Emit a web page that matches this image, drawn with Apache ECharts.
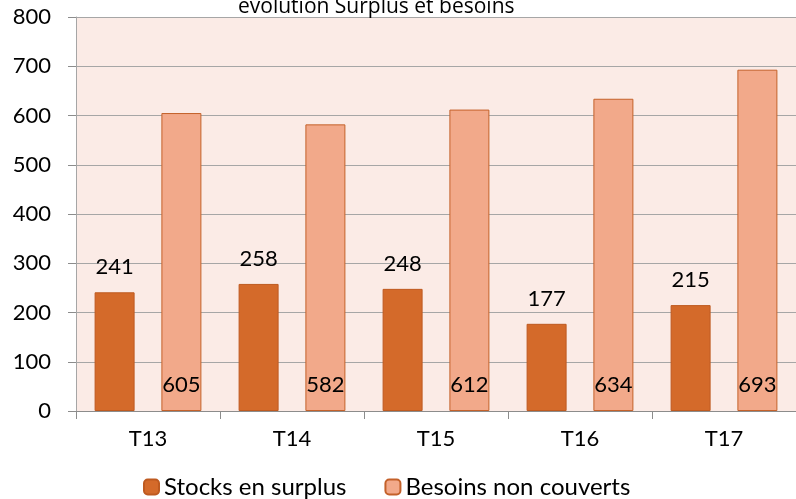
<!DOCTYPE html>
<html>
<head>
<meta charset="utf-8">
<script src="https://cdn.jsdelivr.net/npm/echarts@6/dist/echarts.min.js"></script>
<style>
  html, body { margin: 0; padding: 0; background: #fff; }
  #chart { width: 796px; height: 499px; }
</style>
</head>
<body>
<div id="chart"></div>
<script>
// data
var categories = ['T13', 'T14', 'T15', 'T16', 'T17'];
var stocks = [241, 258, 248, 177, 215];
var besoins = [605, 582, 612, 634, 693];
var yTicks = [0, 100, 200, 300, 400, 500, 600, 700, 800];

var font = 'Lato, "Open Sans", sans-serif';

var myChart = echarts.init(document.getElementById('chart'));
var option = {
  animation: false,
  textStyle: { fontFamily: font },
  title: {
    text: 'évolution Surplus et besoins',
    left: 233,
    top: -8,
    textStyle: { fontSize: 21, fontWeight: 'normal', color: '#000', fontFamily: '"Open Sans", sans-serif' }
  },
  legend: {
    bottom: -5,
    left: 138,
    itemWidth: 15,
    itemHeight: 15,
    itemGap: 38,
    textStyle: { fontSize: 24, color: '#000', fontFamily: font },
    data: ['Stocks en surplus', 'Besoins non couverts']
  },
  grid: {
    left: 76,
    right: 0,
    top: 17,
    bottom: 88,
    show: true,
    backgroundColor: '#FBEBE6',
    borderWidth: 0
  },
  xAxis: {
    type: 'category',
    data: categories,
    axisLine: { lineStyle: { color: '#8C8C8C', width: 1 } },
    axisTick: { show: true, length: 8, lineStyle: { color: '#8C8C8C' } },
    axisLabel: { fontSize: 22, color: '#000', margin: 17, fontFamily: font }
  },
  yAxis: {
    type: 'value',
    min: yTicks[0],
    max: yTicks[yTicks.length - 1],
    interval: 100,
    axisLine: { show: true, lineStyle: { color: '#A6A6A6', width: 1 } },
    axisTick: { show: true, length: 8, lineStyle: { color: '#8C8C8C' } },
    axisLabel: { fontSize: 22, color: '#000', margin: 25, fontFamily: font },
    splitLine: { lineStyle: { color: '#A6A6A6', width: 1 } }
  },
  series: [
    {
      name: 'Stocks en surplus',
      type: 'bar',
      data: stocks,
      barWidth: 40,
      barGap: '67%',
      itemStyle: { color: '#D46A2A', borderColor: '#BE5A20', borderWidth: 1 },
      label: {
        show: true,
        position: 'top',
        distance: 14,
        fontSize: 22,
        color: '#000',
        fontFamily: font
      }
    },
    {
      name: 'Besoins non couverts',
      type: 'bar',
      data: besoins,
      barWidth: 40,
      itemStyle: { color: '#F2A98A', borderColor: '#C4612A', borderWidth: 1 },
      label: {
        show: true,
        position: 'insideBottom',
        distance: 15,
        fontSize: 22,
        color: '#000',
        fontFamily: font
      }
    }
  ]
};
myChart.setOption(option);
</script>
</body>
</html>
